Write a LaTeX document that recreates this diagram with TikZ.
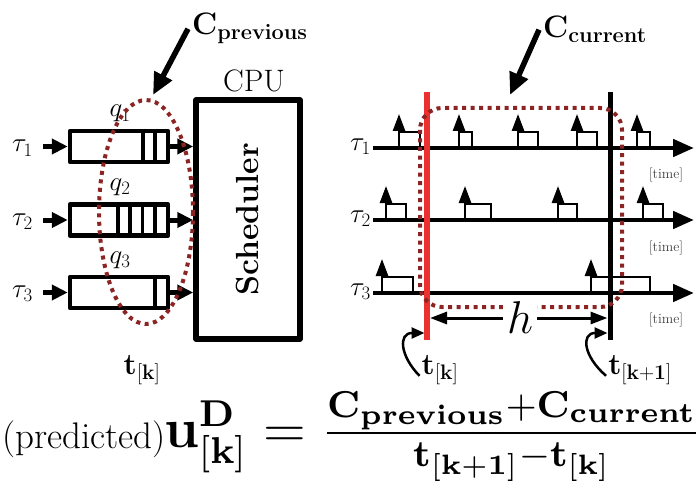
\documentclass[tikz,border=0pt]{standalone}
\usepackage{fix-cm}
\usepackage{amsmath}
\usepackage{graphicx}
\usetikzlibrary{arrows.meta}
\definecolor{dotred}{RGB}{140,36,36}
\definecolor{linered}{RGB}{236,48,48}
\newcommand{\fs}[1]{\fontsize{#1}{#1}\selectfont}
\newcommand{\pulseat}[3]{% x, right x, axis y
  \draw[pulse] (#1,#3) -- (#1,#3-16) -- (#2,#3-16) -- (#2,#3);
  \draw[ptip] (#1,#3-16) -- (#1,#3-34);}
\begin{document}
\begin{tikzpicture}[x=1pt,y=-1pt,
  lbl/.style={inner sep=0pt, font=\fs{27}},
  blbl/.style={inner sep=0pt, font=\fs{31}},
  tlbl/.style={inner sep=0pt, font=\fs{30}},
  timelbl/.style={inner sep=0pt, font=\fs{14}, text=black!75},
  qbox/.style={draw, line width=4.5pt, line join=round, minimum width=98pt, minimum height=31pt, inner sep=0pt},
  slot/.style={line width=3.5pt},
  inarr/.style={line width=5pt, -{Triangle[length=16pt,width=15pt]}},
  bigarr/.style={line width=5.5pt, -{Triangle[length=22pt,width=19pt]}},
  axisarr/.style={line width=4.5pt, -{Triangle[length=21pt,width=17pt]}},
  pulse/.style={line width=2.5pt, line join=miter},
  ptip/.style={line width=2.5pt, -{Triangle[length=17pt,width=12pt]}},
  dots/.style={dotred, line width=4pt, dash pattern=on 4pt off 4.5pt},
  hookarr/.style={line width=2.5pt, -{Triangle[length=13pt,width=11pt]}},
  harr/.style={line width=3pt, {Triangle[length=17pt,width=12pt]}-{Triangle[length=17pt,width=12pt]}}
]
\useasboundingbox (0,0) rectangle (700,481);

% ---------------- left part ----------------
\node[draw, line width=5.5pt, line join=round, rotate=90, minimum width=239pt, minimum height=104pt,
      inner sep=0pt, font=\fs{32}\bfseries] (sched) at (248,219.5) {Scheduler};
\node[inner sep=0pt, font=\fs{31}, anchor=base] (cpu) at (254,92) {CPU};

\node[qbox] (qa) at (119,146.5) {};
\node[qbox] (qb) at (119,220) {};
\node[qbox] (qc) at (119,292.5) {};

\foreach \x in {143,155} \draw[slot] (\x,0 |- qa.north) -- (\x,0 |- qa.south);
\foreach \x in {118,130,142.5,155} \draw[slot] (\x,0 |- qb.north) -- (\x,0 |- qb.south);
\foreach \x in {155} \draw[slot] (\x,0 |- qc.north) -- (\x,0 |- qc.south);

\coordinate (sa) at (43,146.5);
\coordinate (sb) at (43,220);
\coordinate (sc) at (43,292.5);
\draw[inarr] (sa) -- (qa.west);
\draw[inarr] (sb) -- (qb.west);
\draw[inarr] (sc) -- (qc.west);
\draw[inarr] (qa.east) -- (qa.east -| sched.north);
\draw[inarr] (qb.east) -- (qb.east -| sched.north);
\draw[inarr] (qc.east) -- (qc.east -| sched.north);

\node[lbl, anchor=base east] (ta) at (33,152) {$\tau_1$};
\node[lbl, anchor=base east] (tb) at (33,225) {$\tau_2$};
\node[lbl, anchor=base east] (tc) at (33,297) {$\tau_3$};

\node[lbl, anchor=base] (la) at (120,117) {$q_1$};
\node[lbl, anchor=base] (lb) at (120,190) {$q_2$};
\node[lbl, anchor=base] (lc) at (120,263) {$q_3$};

\draw[dots] (146,212) ellipse [x radius=47, y radius=112];

\node[tlbl, anchor=base] (tk1) at (142,374) {$\mathbf{t}_{[\mathbf{k}]}$};

\node[blbl, anchor=base west] (cprev) at (192,35) {$\mathbf{C}_{\mathbf{previous}}$};
\coordinate (ptip) at (153,95);
\draw[bigarr] ([xshift=-4pt]cprev.west) -- (ptip);

% ---------------- right part ----------------
\pulseat{399}{420}{148}
\pulseat{459}{472}{148}
\pulseat{518}{538}{148}
\pulseat{577}{597}{148}
\pulseat{637}{650}{148}
\pulseat{386}{406}{220}
\pulseat{465}{491}{220}
\pulseat{558}{577}{220}
\pulseat{643}{663}{220}
\pulseat{382}{413}{293}
\pulseat{591}{650}{293}

\coordinate (xa0) at (373,148); \coordinate (xa1) at (694,148);
\coordinate (xb0) at (373,220); \coordinate (xb1) at (694,220);
\coordinate (xc0) at (373,293); \coordinate (xc1) at (694,293);
\draw[axisarr] (xa0) -- (xa1);
\draw[axisarr] (xb0) -- (xb1);
\draw[axisarr] (xc0) -- (xc1);

\coordinate (rtop) at (427,92); \coordinate (rbot) at (427,340);
\coordinate (btop) at (610,92); \coordinate (bbot) at (610,340);
\draw[linered, line width=6pt] (rtop) -- (rbot);
\draw[line width=5pt] (btop) -- (bbot);

\draw[dots, rounded corners=22pt] (420,108) rectangle (622,307);

\node[lbl, anchor=base east] (ra) at (371,150) {$\tau_1$};
\node[lbl, anchor=base east] (rb) at (371,222) {$\tau_2$};
\node[lbl, anchor=base east] (rc) at (371,295) {$\tau_3$};

\node[timelbl] (tma) at (666,175) {[time]};
\node[timelbl] (tmb) at (666,248) {[time]};
\node[timelbl] (tmc) at (666,320) {[time]};

\coordinate (hl) at (430,318); \coordinate (hr) at (607.5,318);
\draw[harr] (hl) -- (hr);
\node[fill=white, inner sep=4pt, font=\fs{46}, anchor=base] (hh) at (520,333) {$h$};

\node[tlbl, anchor=base] (tk2) at (440,374) {$\mathbf{t}_{[\mathbf{k}]}$};
\node[tlbl, anchor=base] (tk3) at (640,374) {$\mathbf{t}_{[\mathbf{k}+\mathbf{1}]}$};
\coordinate (hka) at (424.5,333); \coordinate (hkb) at (607.5,333);
\draw[hookarr] ([xshift=-2pt,yshift=-6pt]tk2.west) .. controls (400,356) and (398,333) .. (hka);
\draw[hookarr] ([xshift=-2pt,yshift=-6pt]tk3.west) .. controls (583,356) and (581,333) .. (hkb);

\node[blbl, anchor=base west] (ccur) at (543,38) {$\mathbf{C}_{\mathbf{current}}$};
\coordinate (ctip) at (510,95);
\draw[bigarr] ([xshift=-4pt]ccur.west) -- (ctip);

% ---------------- formula ----------------
\node[inner sep=0pt, anchor=base east, font=\fs{37}] (pred) at (166,448) {(predicted)};
\node[inner sep=0pt, anchor=base west] (eq) at (164,447)
  {\scalebox{4.67}{\fs{12}$\mathbf{u}^{\mathbf{D}}_{[\mathbf{k}]} =
    \frac{\mathbf{C}_{\mathbf{previous}}+\mathbf{C}_{\mathbf{current}}}{\mathbf{t}_{[\mathbf{k}+\mathbf{1}]}-\mathbf{t}_{[\mathbf{k}]}}$}};
\end{tikzpicture}
\end{document}
